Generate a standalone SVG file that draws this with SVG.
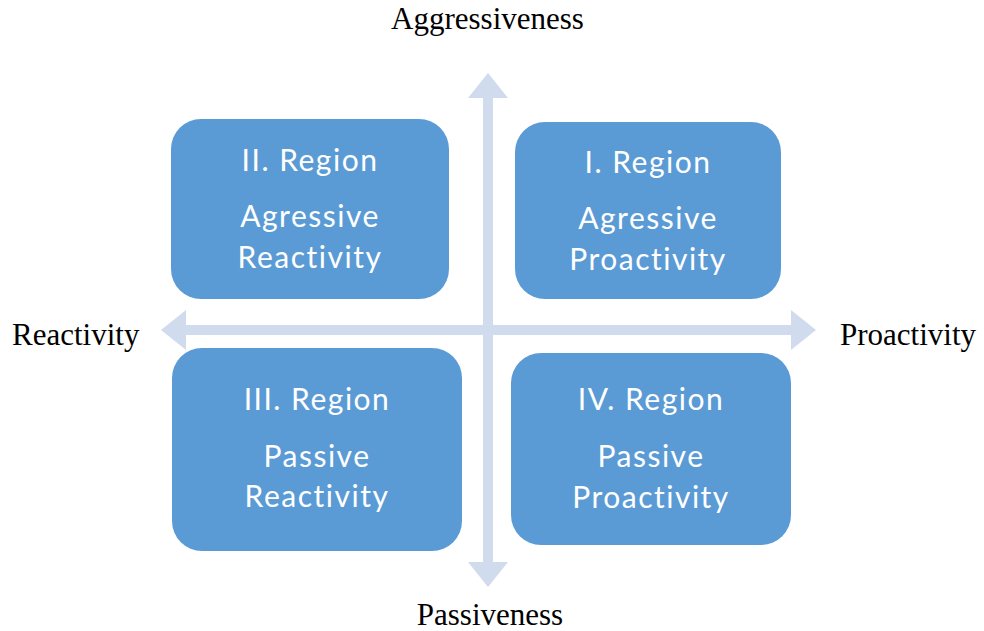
<svg xmlns="http://www.w3.org/2000/svg" width="984" height="631" viewBox="0 0 984 631">
  <style>
    .box { fill: #5B9BD5; }
    .axis { fill: #D0DBEE; }
    .boxtext { font-family: Lato, "Open Sans", "Liberation Sans", sans-serif; font-size: 30px; fill: #FFFFFF; text-anchor: middle; letter-spacing: 1.5px; }
    .axislabel { font-family: "Liberation Serif", "Times New Roman", serif; font-size: 31px; fill: #000000; }
  </style>
  <rect width="984" height="631" fill="#FFFFFF"/>

  <!-- Axes: two double-headed block arrows -->
  <g id="connectors">
    <polygon class="axis" points="488,73 508,98 493,98 493,562 508,562 488,587 468,562 483,562 483,98 468,98"/>
    <polygon class="axis" points="161,330 186,310 186,325 791,325 791,310 816,330 791,350 791,335 186,335 186,350"/>
  </g>

  <!-- Quadrants -->
  <g id="region-2">
    <rect class="box" x="171" y="119" width="278" height="180" rx="30" ry="30"/>
    <text class="boxtext" x="310" y="171">II. Region</text>
    <text class="boxtext" x="310" y="227">Agressive</text>
    <text class="boxtext" x="310" y="268">Reactivity</text>
  </g>
  <g id="region-1">
    <rect class="box" x="515" y="122" width="266" height="177" rx="30" ry="30"/>
    <text class="boxtext" x="648" y="173">I. Region</text>
    <text class="boxtext" x="648" y="229">Agressive</text>
    <text class="boxtext" x="648" y="270">Proactivity</text>
  </g>
  <g id="region-3">
    <rect class="box" x="172" y="348" width="290" height="203" rx="30" ry="30"/>
    <text class="boxtext" x="317" y="410">III. Region</text>
    <text class="boxtext" x="317" y="467">Passive</text>
    <text class="boxtext" x="317" y="507">Reactivity</text>
  </g>
  <g id="region-4">
    <rect class="box" x="511" y="353" width="280" height="192" rx="30" ry="30"/>
    <text class="boxtext" x="651" y="410">IV. Region</text>
    <text class="boxtext" x="651" y="467">Passive</text>
    <text class="boxtext" x="651" y="508">Proactivity</text>
  </g>

  <!-- Axis labels -->
  <g id="label-aggressiveness">
    <text class="axislabel" x="487.5" y="29" text-anchor="middle">Aggressiveness</text>
  </g>
  <g id="label-passiveness">
    <text class="axislabel" x="490" y="625" text-anchor="middle">Passiveness</text>
  </g>
  <g id="label-reactivity">
    <text class="axislabel" x="12" y="345">Reactivity</text>
  </g>
  <g id="label-proactivity">
    <text class="axislabel" x="840" y="345">Proactivity</text>
  </g>
</svg>
